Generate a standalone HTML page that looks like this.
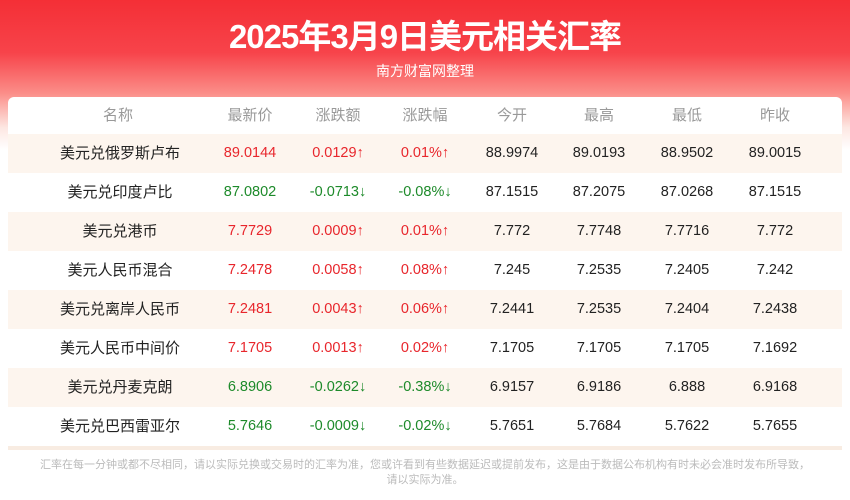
<!DOCTYPE html>
<html><head><meta charset="utf-8">
<style>
*{margin:0;padding:0;box-sizing:border-box}
body{width:850px;height:500px;overflow:hidden;background:#fff;font-family:"Liberation Sans","Noto Sans CJK SC",sans-serif;position:relative}
#bg{position:absolute;left:0;top:0;width:850px;height:150px;background:linear-gradient(180deg,#f42f36 0%,#f7434a 35%,#fb8d88 62%,#fde7e2 85%,#fff 100%)}
#title{position:absolute;top:10px;width:850px;text-align:center;color:#fff;font-size:33px;font-weight:bold;letter-spacing:-1px}
#sub{position:absolute;top:61px;width:850px;text-align:center;color:#fff;font-size:14px}
#card{position:absolute;left:8px;top:97px;width:834px;height:350px;background:#fff;border-radius:6px}
.row{position:absolute;left:8px;width:834px;height:39px}
.odd{background:#fdf5ee}
.c{position:absolute;top:0;line-height:39px;font-size:14.5px;text-align:center;width:120px;margin-left:-60px;color:#222;white-space:nowrap}
.n{font-size:15px}
.h .c{color:#999;font-size:15px;line-height:37px}
.red{color:#e8262c}.green{color:#1d8a2a}
#sep{position:absolute;left:8px;top:446px;width:834px;height:4px;background:#f8ece2}
#foot{position:absolute;top:458px;left:20px;width:810px;text-align:center;color:#bbb;font-size:11px;line-height:15px}
</style></head><body>
<div id="bg"></div>
<div id="title">2025年3月9日美元相关汇率</div>
<div id="sub">南方财富网整理</div>
<div id="card"></div>
<div id="rows"></div>
<div id="sep"></div>
<div id="foot">汇率在每一分钟或都不尽相同，请以实际兑换或交易时的汇率为准，您或许看到有些数据延迟或提前发布，这是由于数据公布机构有时未必会准时发布所导致，<br>请以实际为准。</div>
<script>
const headers=["名称","最新价","涨跌额","涨跌幅","今开","最高","最低","昨收"];
const names=["美元兑俄罗斯卢布","美元兑印度卢比","美元兑港币","美元人民币混合","美元兑离岸人民币","美元人民币中间价","美元兑丹麦克朗","美元兑巴西雷亚尔"];
const latest=["89.0144","87.0802","7.7729","7.2478","7.2481","7.1705","6.8906","5.7646"];
const change=["0.0129","-0.0713","0.0009","0.0058","0.0043","0.0013","-0.0262","-0.0009"];
const pct=["0.01%","-0.08%","0.01%","0.08%","0.06%","0.02%","-0.38%","-0.02%"];
const open=["88.9974","87.1515","7.772","7.245","7.2441","7.1705","6.9157","5.7651"];
const high=["89.0193","87.2075","7.7748","7.2535","7.2535","7.1705","6.9186","5.7684"];
const low=["88.9502","87.0268","7.7716","7.2405","7.2404","7.1705","6.888","5.7622"];
const prev=["89.0015","87.1515","7.772","7.242","7.2438","7.1692","6.9168","5.7655"];
const xs=[118,250,338,425,512,599,687,775];
const root=document.getElementById('rows');
function cell(row,x,text,cls){const d=document.createElement('div');d.className='c '+(cls||'');d.style.left=(x-8)+'px';d.textContent=text;


row.appendChild(d);}
const h=document.createElement('div');h.className='row h';h.style.top='97px';


headers.forEach((t,i)=>cell(h,xs[i],t));root.appendChild(h);
names.forEach((n,i)=>{const r=document.createElement('div');r.className='row'+(i%2==0?' odd':'');r.style.top=(134+i*39)+'px';


const neg=change[i].startsWith('-');const cl=neg?'green':'red';const ar=neg?'↓':'↑';
cell(r,xs[0]+2,n,'n');cell(r,xs[1],latest[i],cl);cell(r,xs[2],change[i]+ar,cl);cell(r,xs[3],pct[i]+ar,cl);
cell(r,xs[4],open[i]);cell(r,xs[5],high[i]);cell(r,xs[6],low[i]);cell(r,xs[7],prev[i]);root.appendChild(r);});
</script>
</body></html>
